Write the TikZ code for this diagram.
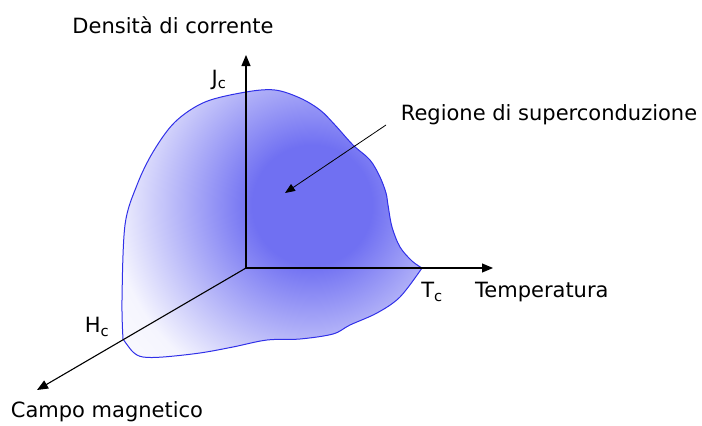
\documentclass[tikz,border=0pt]{standalone}
\usepackage{fontspec}
\setmainfont{DejaVu Sans}
\usetikzlibrary{arrows.meta,positioning}
\definecolor{blobblue}{RGB}{112,112,242}
\definecolor{edgeblue}{RGB}{48,48,232}
\pgfdeclareradialshading{blobshade}{\pgfpoint{0bp}{0bp}}{%
  color(0bp)=(blobblue); color(6bp)=(blobblue); color(20bp)=(blobblue!7);
  color(25bp)=(blobblue!3); color(50bp)=(blobblue!3)}

\begin{document}
\begin{tikzpicture}[x=1pt, y=-1pt,
    axis/.style={-{Triangle[length=11pt,width=9pt]}, line width=1.1pt, black},
    pointer/.style={-{Triangle[length=10pt,width=8pt]}, line width=0.8pt, black},
    lbl/.style={font=\fontsize{21}{24}\selectfont, inner sep=0pt},
    region/.style={draw=edgeblue, line width=1pt,
                   path picture={\shade[shading=blobshade] (312,205) circle[radius=250pt];}}
  ]
  \useasboundingbox (0,0) rectangle (702,426);
  \coordinate (O) at (246,268);
  \coordinate (jtop) at (246,55);
  \coordinate (tend) at (493,268);
  \coordinate (hend) at (37,390);
  \coordinate (jc) at (246,92);
  \coordinate (tc) at (422,268);
  \coordinate (hc) at (123,339);
  % superconducting region
  \path[region] plot[smooth, tension=0.55] coordinates {(hc) (122,300) (125,225) (137,185)
      (153,152) (175,122) (205,102) (jc) (275,90) (300,98) (320,110) (335,125)
      (353,145) (370,160) (380,177) (386,193) (388,205) (392,227) (400,247) (412,261) (tc)}
    -- plot[smooth, tension=0.55] coordinates {(tc) (400,297) (377,313) (350,325)
      (333,334) (300,339) (267,340) (233,347) (200,353) (163,357) (143,357) (133,352) (hc)}
    -- cycle;
  % axes
  \draw[axis] (O) -- (jtop);
  \draw[axis] (O) -- (tend);
  \draw[axis] (O) -- (hend);
  % labels
  \node[lbl] (dens) at (173,25) {Densità di corrente};
  \node[lbl] (jlab) at (219,80) {J\textsubscript{c}};
  \node[lbl] (tlab) at (432,292) {T\textsubscript{c}};
  \node[lbl, right=32pt of tlab.east, anchor=west] (temp) {Temperatura};
  \node[lbl] (hlab) at (97,327) {H\textsubscript{c}};
  \node[lbl] (campo) at (107,412) {Campo magnetico};
  \node[lbl] (reg) at (549,115) {Regione di superconduzione};
  \coordinate (tail) at (386,125);
  \coordinate (tip) at (285,193);
  \draw[pointer] (tail) -- (tip);
\end{tikzpicture}
\end{document}
